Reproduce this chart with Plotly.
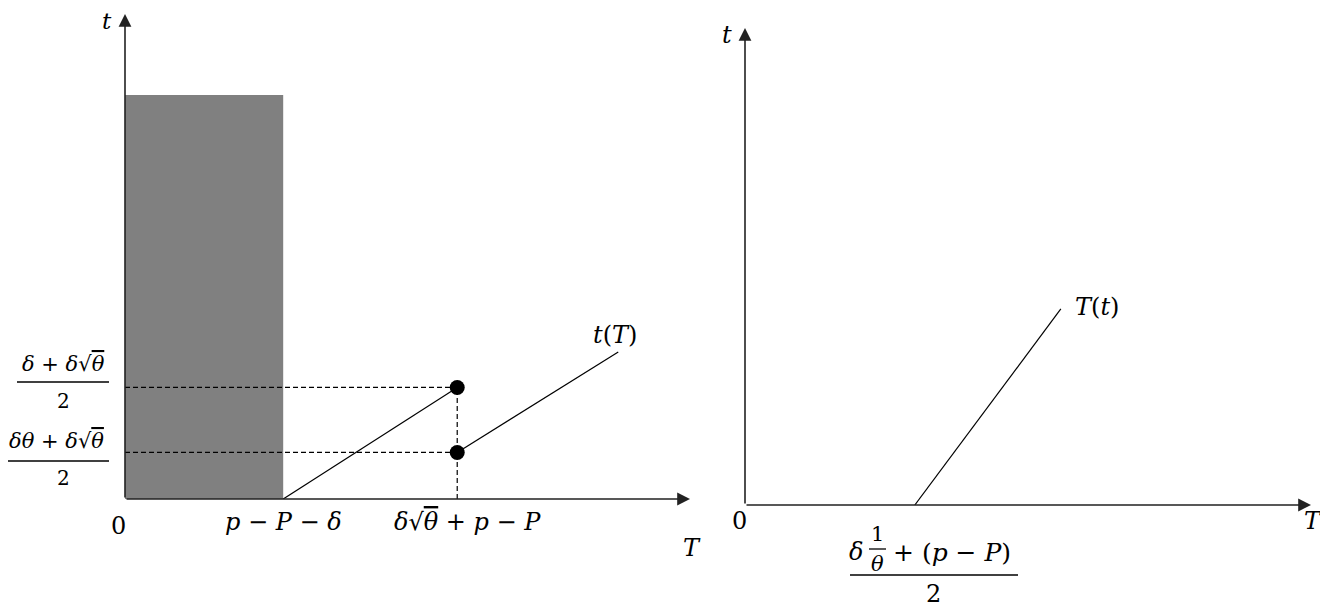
import plotly.graph_objects as go

# ---- data (schematic units, both panels run 0..10 on each axis) ----
# left panel: t(T)
block_T = [0, 2.8, 2.8, 0, 0]          # shaded region up to p-P-delta
block_t = [0, 0, 8.33, 8.33, 0]
jump_T = 5.88                           # delta*sqrt(theta) + p - P
t_high = 2.30                           # (delta + delta*sqrt(theta))/2
t_low = 0.96                            # (delta*theta + delta*sqrt(theta))/2
seg1_T = [2.8, 5.88]
seg1_t = [0.0, 2.30]
seg2_T = [5.88, 8.73]
seg2_t = [0.96, 3.03]

# right panel: T(t)
seg3_T = [3.0, 5.58]
seg3_t = [0.0, 4.11]

# page puts the plot 8px in from the corner, so the figure is a bit smaller
OFF = 8
W, H = 1328 - OFF, 607 - OFF
FONT = "DejaVu Serif"


def px(x):
    return (x - OFF) / W


def py(y):
    return (H - (y - OFF)) / H


fig = go.Figure()

# shaded block
fig.add_trace(go.Scatter(x=block_T, y=block_t, fill="toself", fillcolor="#808080",
                         mode="lines", line=dict(width=0), xaxis="x", yaxis="y"))
# dashed guides
dash = dict(color="black", width=1.2, dash="5px,3px")
fig.add_trace(go.Scatter(x=[0, jump_T], y=[t_high, t_high], mode="lines", line=dash, xaxis="x", yaxis="y"))
fig.add_trace(go.Scatter(x=[0, jump_T], y=[t_low, t_low], mode="lines", line=dash, xaxis="x", yaxis="y"))
fig.add_trace(go.Scatter(x=[jump_T, jump_T], y=[0, t_high], mode="lines", line=dash, xaxis="x", yaxis="y"))
# t(T) segments
fig.add_trace(go.Scatter(x=seg1_T, y=seg1_t, mode="lines", line=dict(color="black", width=1.2),
                         xaxis="x", yaxis="y"))
fig.add_trace(go.Scatter(x=seg2_T, y=seg2_t, mode="lines", line=dict(color="black", width=1.2),
                         xaxis="x", yaxis="y"))
fig.add_trace(go.Scatter(x=[jump_T, jump_T], y=[t_high, t_low], mode="markers",
                         marker=dict(color="black", size=15), xaxis="x", yaxis="y"))
# T(t) segment
fig.add_trace(go.Scatter(x=seg3_T, y=seg3_t, mode="lines", line=dict(color="black", width=1.2),
                         xaxis="x2", yaxis="y2"))

ann = []
# axes drawn as arrows
for xr, yr in [("x", "y"), ("x2", "y2")]:
    ann.append(dict(x=10, y=0, ax=0, ay=0, xref=xr, yref=yr, axref=xr, ayref=yr, text="",
                    showarrow=True, arrowhead=2, arrowsize=1.6, arrowwidth=1.6, arrowcolor="#222"))
    ann.append(dict(x=0, y=10, ax=0, ay=0, xref=xr, yref=yr, axref=xr, ayref=yr, text="",
                    showarrow=True, arrowhead=2, arrowsize=1.6, arrowwidth=1.6, arrowcolor="#222"))


def lab(text, x, y, size=24):
    # x, y: centre of the text in page pixels
    ann.append(dict(text=text, x=px(x), y=py(y), xref="paper", yref="paper",
                    showarrow=False, font=dict(family=FONT, size=size, color="black"),
                    xanchor="center", yanchor="middle"))


def it(s):
    return "<i>" + s + "</i>"


OV = "<span style='text-decoration:overline'>θ</span>"

# left panel labels
lab(it("t"), 107, 21, size=23)
lab(it("T"), 692, 548)
lab("0", 118, 526)
lab(it("p − P − δ"), 283, 522)
lab(it("δ√" + OV + " + p − P"), 467, 522)
lab(it("t") + "(" + it("T") + ")", 615, 335)

# y-axis fraction labels
lab(it("δ + δ√" + OV), 63, 364, size=21)
lab("2", 63, 401, size=20)
lab(it("δθ + δ√" + OV), 56, 441, size=21)
lab("2", 63, 478, size=20)

# right panel labels
lab(it("t"), 727, 35)
lab(it("T"), 1313, 521)
lab("0", 739, 521)
lab(it("T") + "(" + it("t") + ")", 1097, 307)

lab(it("δ"), 856, 552)
lab("1", 877, 534, size=21)
lab(it("θ"), 877, 564, size=21)
lab("+ (" + it("p − P") + ")", 952, 552, size=25)
lab("2", 933, 594)

bar = dict(color="black", width=1.3)
shapes = [
    dict(type="line", xref="paper", yref="paper", x0=px(17), x1=px(109), y0=py(382), y1=py(382), line=bar),
    dict(type="line", xref="paper", yref="paper", x0=px(3), x1=px(109), y0=py(461), y1=py(461), line=bar),
    dict(type="line", xref="paper", yref="paper", x0=px(850), x1=px(1018), y0=py(575), y1=py(575), line=bar),
    dict(type="line", xref="paper", yref="paper", x0=px(869), x1=px(886), y0=py(549), y1=py(549), line=bar),
]

fig.update_layout(
    width=W, height=H,
    margin=dict(l=0, r=0, t=0, b=0),
    paper_bgcolor="white", plot_bgcolor="white",
    showlegend=False,
    xaxis=dict(domain=[px(125), px(690)], range=[0, 10], visible=False),
    yaxis=dict(domain=[py(499), py(14)], range=[0, 10], visible=False),
    xaxis2=dict(domain=[px(745), px(1311)], range=[0, 10], visible=False),
    yaxis2=dict(domain=[py(505), py(28)], range=[0, 10], visible=False, anchor="x2"),
    annotations=ann,
    shapes=shapes,
)

fig.write_html("out.html")
